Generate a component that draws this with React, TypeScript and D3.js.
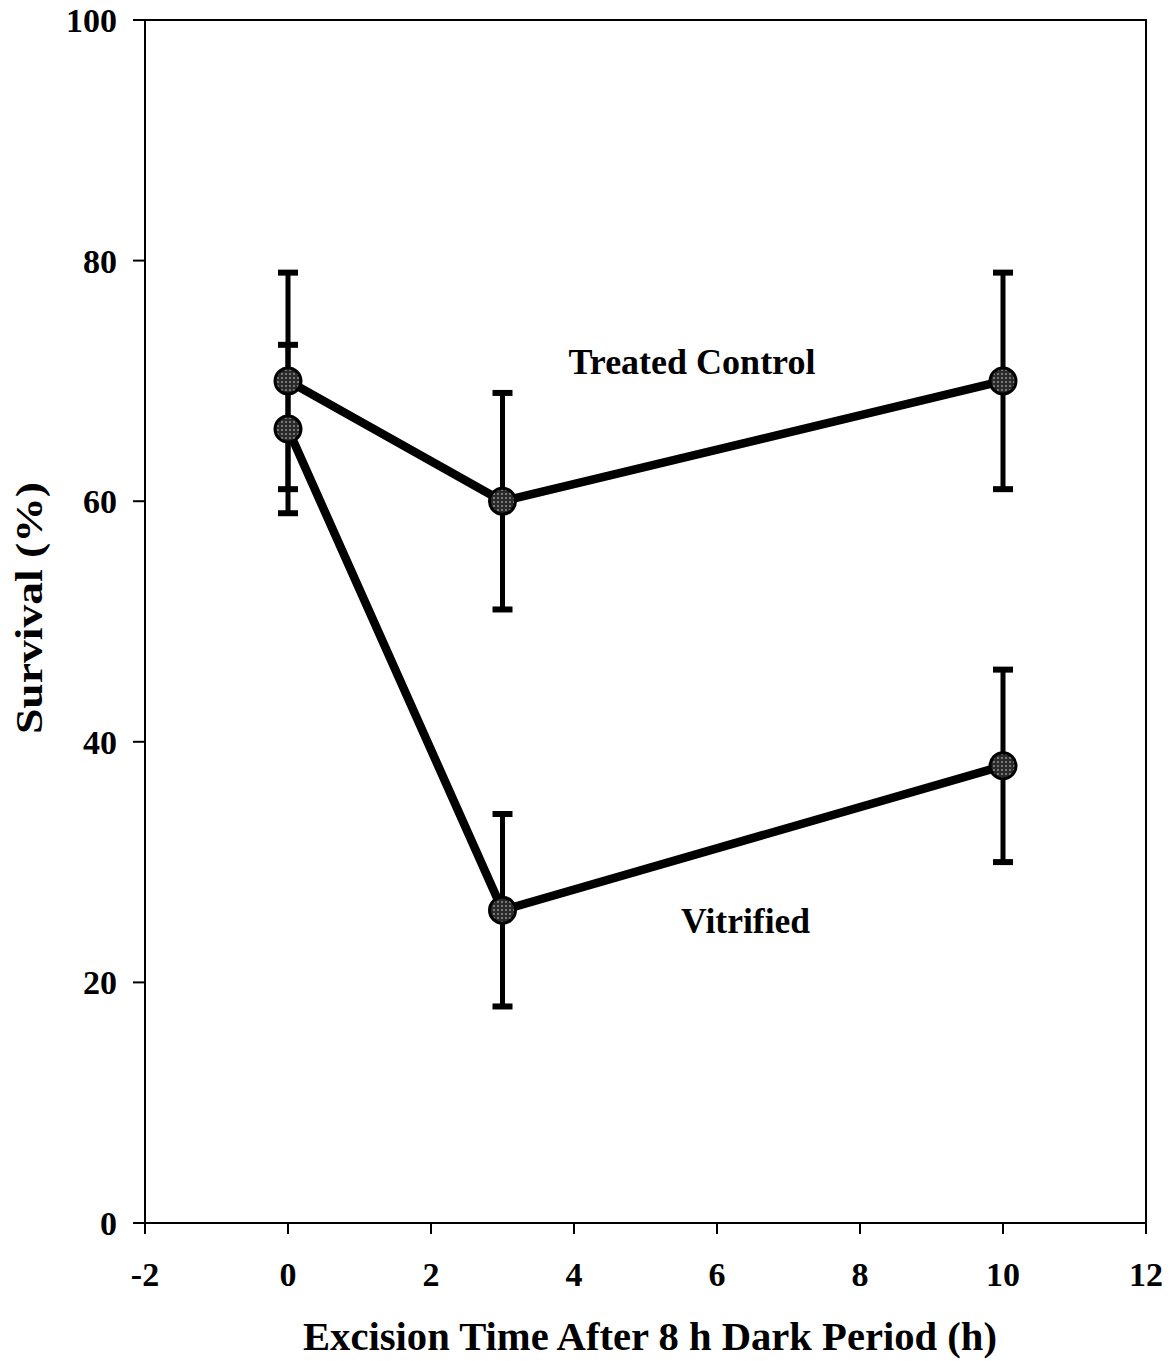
import React from 'react';
import * as d3 from 'd3';

const times = [0, 3, 10];
const treatedControl = [70, 60, 70];
const treatedControlErr = [9, 9, 9];
const vitrified = [66, 26, 38];
const vitrifiedErr = [7, 8, 8];
const xTicks = [-2, 0, 2, 4, 6, 8, 10, 12];
const yTicks = [0, 20, 40, 60, 80, 100];

const width = 1173;
const height = 1361;
const marginLeft = 145;
const marginRight = 27;
const marginTop = 20;
const marginBottom = 138;

const font = '"Liberation Serif", "Times New Roman", serif';

export default function App() {
  const x = d3.scaleLinear().domain([-2, 12]).range([marginLeft, width - marginRight]);
  const y = d3.scaleLinear().domain([0, 100]).range([height - marginBottom, marginTop]);

  const line = d3.line<[number, number]>()
    .x(d => x(d[0]))
    .y(d => y(d[1]));

  const series = [
    { name: 'tc', values: treatedControl, err: treatedControlErr },
    { name: 'vit', values: vitrified, err: vitrifiedErr },
  ];

  const x0 = x(-2);
  const x1 = x(12);
  const y0 = y(0);
  const y1 = y(100);

  return (
    <div style={{ position: 'absolute', left: 0, top: 0 }}>
      <svg width={width} height={height} style={{ display: 'block', background: '#fff' }}>
        <defs>
          <pattern id="dots" width="4" height="4" patternUnits="userSpaceOnUse">
            <rect width="4" height="4" fill="#2a2a2a" />
            <circle cx="2" cy="2" r="0.9" fill="#9a9a9a" />
          </pattern>
        </defs>

        {/* frame */}
        <rect x={x0} y={y1} width={x1 - x0} height={y0 - y1} fill="none" stroke="#000" strokeWidth={2} />

        {/* y ticks */}
        {yTicks.map(t => (
          <g key={'y' + t}>
            <line x1={x0 - 12} x2={x0} y1={y(t)} y2={y(t)} stroke="#000" strokeWidth={2} />
            <text x={x0 - 28} y={y(t)} dy="0.35em" textAnchor="end" fontFamily={font}
              fontWeight="bold" fontSize={34}>{t}</text>
          </g>
        ))}

        {/* x ticks */}
        {xTicks.map(t => (
          <g key={'x' + t}>
            <line x1={x(t)} x2={x(t)} y1={y0} y2={y0 + 11} stroke="#000" strokeWidth={2} />
            <text x={x(t)} y={y0 + 63} textAnchor="middle" fontFamily={font}
              fontWeight="bold" fontSize={34}>{t}</text>
          </g>
        ))}

        {/* error bars */}
        {series.map(s => s.values.map((v, i) => (
          <g key={s.name + 'e' + i} stroke="#000">
            <line x1={x(times[i])} x2={x(times[i])} y1={y(v + s.err[i])} y2={y(v - s.err[i])} strokeWidth={5} />
            <line x1={x(times[i]) - 10} x2={x(times[i]) + 10} y1={y(v + s.err[i])} y2={y(v + s.err[i])} strokeWidth={6} />
            <line x1={x(times[i]) - 10} x2={x(times[i]) + 10} y1={y(v - s.err[i])} y2={y(v - s.err[i])} strokeWidth={6} />
          </g>
        )))}

        {/* lines */}
        {series.map(s => (
          <path key={s.name + 'l'} d={line(s.values.map((v, i) => [times[i], v] as [number, number])) || ''}
            fill="none" stroke="#000" strokeWidth={8.5} strokeLinejoin="round" />
        ))}

        {/* markers */}
        {series.map(s => s.values.map((v, i) => (
          <circle key={s.name + 'm' + i} cx={x(times[i])} cy={y(v)} r={13}
            fill="url(#dots)" stroke="#000" strokeWidth={3} />
        )))}

        {/* labels */}
        <text x={x(5.65)} y={y(70.6)} textAnchor="middle" fontFamily={font} fontWeight="bold" fontSize={35}
          textLength={247} lengthAdjust="spacingAndGlyphs">Treated Control</text>
        <text x={x(6.4)} y={y(24.1)} textAnchor="middle" fontFamily={font} fontWeight="bold" fontSize={35}
          textLength={129} lengthAdjust="spacingAndGlyphs">Vitrified</text>

        {/* axis titles */}
        <text x={650} y={1350} textAnchor="middle" fontFamily={font} fontWeight="bold" fontSize={40}
          textLength={694} lengthAdjust="spacingAndGlyphs">Excision Time After 8 h Dark Period (h)</text>
        <text transform={`translate(42,608) rotate(-90)`} textAnchor="middle" fontFamily={font}
          fontWeight="bold" fontSize={38} textLength={252} lengthAdjust="spacingAndGlyphs">Survival (%)</text>
      </svg>
    </div>
  );
}
